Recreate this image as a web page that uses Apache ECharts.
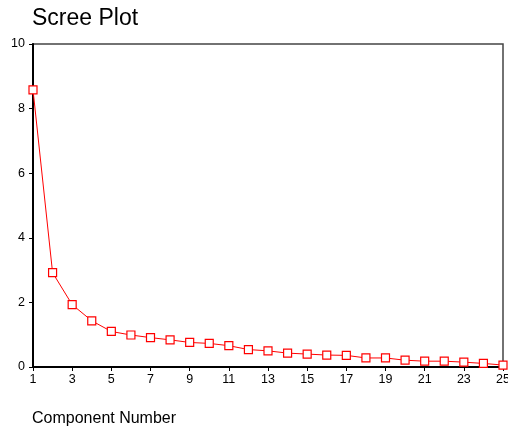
<!DOCTYPE html>
<html>
<head>
<meta charset="utf-8">
<script src="https://cdn.jsdelivr.net/npm/echarts@6/dist/echarts.min.js"></script>
<style>
  html, body { margin: 0; padding: 0; background: #fff; }
  #chart { width: 508px; height: 432px; }
</style>
</head>
<body>
<div id="chart"></div>
<script>
// component numbers and eigenvalues
var components = [];
for (var i = 1; i <= 25; i++) components.push(String(i));
var eigenvalues = [8.58, 2.92, 1.93, 1.43, 1.10, 0.99, 0.91, 0.84, 0.76, 0.73,
                   0.66, 0.54, 0.50, 0.43, 0.40, 0.37, 0.36, 0.28, 0.28, 0.21,
                   0.18, 0.18, 0.15, 0.11, 0.06];

var chart = echarts.init(document.getElementById('chart'));
chart.setOption({
  animation: false,
  title: {
    text: 'Scree Plot',
    left: 27,
    top: 2,
    textStyle: { fontFamily: 'Liberation Sans', fontSize: 23, fontWeight: 'normal', color: '#000' }
  },
  graphic: [{
    type: 'text',
    left: 32,
    top: 411,
    style: { text: 'Component Number', fontFamily: 'Liberation Sans', fontSize: 16, fill: '#000' }
  }],
  grid: {
    left: 33, right: 5, top: 44, bottom: 65,
    outerBoundsMode: 'none',
    containLabel: false,
    show: true,
    borderColor: '#444',
    borderWidth: 1.5
  },
  xAxis: {
    type: 'category',
    boundaryGap: false,
    data: components,
    axisLine: { lineStyle: { color: '#000', width: 2 } },
    axisTick: { interval: 1, length: 4, lineStyle: { color: '#000' } },
    axisLabel: { interval: 1, color: '#000', fontFamily: 'Liberation Sans', fontSize: 12.5, margin: 6 },
    splitLine: { show: false }
  },
  yAxis: {
    type: 'value',
    min: 0, max: 10, interval: 2,
    axisLine: { show: true, lineStyle: { color: '#000', width: 2 } },
    axisTick: { show: true, length: 4, lineStyle: { color: '#000' } },
    axisLabel: { color: '#000', fontFamily: 'Liberation Sans', fontSize: 12.5, margin: 8 },
    splitLine: { show: false }
  },
  series: [{
    type: 'line',
    data: eigenvalues,
    symbol: 'rect',
    symbolSize: 8,
    lineStyle: { color: '#ff0000', width: 1 },
    itemStyle: { color: '#ffffff', borderColor: '#ff0000', borderWidth: 1.2 }
  }]
});
</script>
</body>
</html>
